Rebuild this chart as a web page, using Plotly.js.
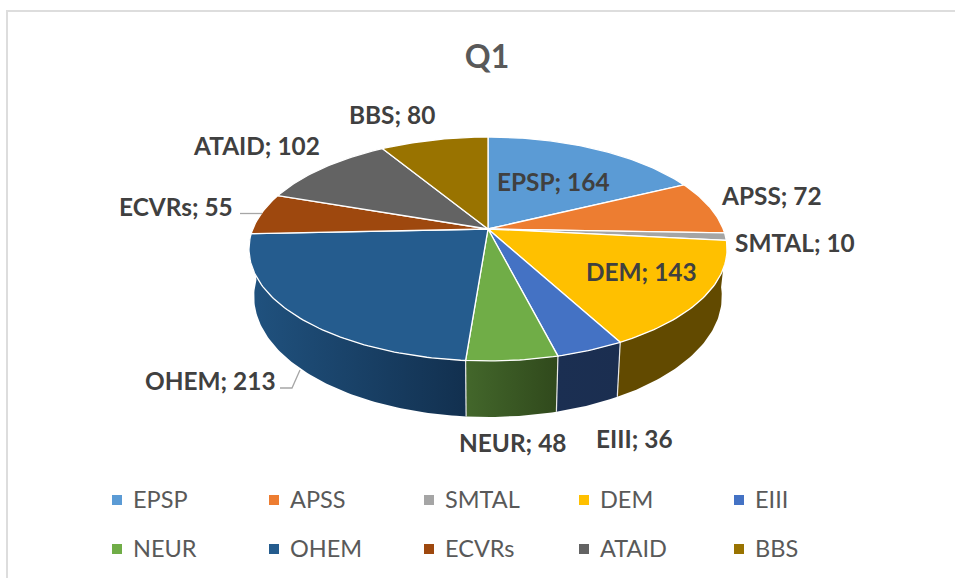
<!DOCTYPE html>
<html>
<head>
<meta charset="utf-8">
<script src="https://cdn.plot.ly/plotly-3.0.1.min.js"></script>
<style>html,body{margin:0;padding:0;background:#fff;overflow:hidden}</style>
</head>
<body>
<div id="chart" style="width:955px;height:578px"></div>
<script>
// Data
var categories = ["EPSP","APSS","SMTAL","DEM","EIII","NEUR","OHEM","ECVRs","ATAID","BBS"];
var values = [164,72,10,143,36,48,213,55,102,80];

// Styles
var topColors = ["#5B9BD5","#ED7D31","#A5A5A5","#FFC000","#4472C4","#70AD47","#255C8E","#9E480E","#636363","#997300"];
var wallLeft  = ["#375d80","#8e4b1d","#636363","#624a00","#1b2f52","#43672b","#20527f","#5f2b08","#3b3b3b","#5c4500"];
var wallRight = ["#375d80","#8e4b1d","#636363","#624a00","#1b2e50","#30491c","#12304f","#5f2b08","#3b3b3b","#5c4500"];

// Projection of the pie disc (pixel space axes)
var CX = 488, CY = 229, A = 235.2, B = 108.4, K = 0.1786, DEPTH = 46, BASE_SCALE = 0.978;
function project(deg, lower) {
  var t = deg * Math.PI / 180, u = Math.sin(t), v = Math.cos(t), w = 1 + K * v;
  return lower
    ? [CX + BASE_SCALE * A * u / w, CY - B * v / w + DEPTH / w]
    : [CX + A * u / w, CY - B * v / w];
}
function arc(a0, a1, lower) {
  var n = Math.max(2, Math.ceil(Math.abs(a1 - a0))), pts = [];
  for (var i = 0; i <= n; i++) pts.push(project(a0 + (a1 - a0) * i / n, lower));
  return pts;
}

var total = values.reduce(function (s, v) { return s + v; }, 0);
var edges = [0];
values.forEach(function (v, i) { edges.push(edges[i] + v / total * 360); });

var traces = [];

// Side walls (only the slices that face the viewer)
categories.forEach(function (c, i) {
  var a0 = edges[i], a1 = edges[i + 1];
  var front = Math.min(Math.cos(a0 * Math.PI / 180), Math.cos(a1 * Math.PI / 180)) < -0.15;
  if (!front) return;
  var pts = arc(a0, a1, false).concat(arc(a1, a0, true));
  pts.push(pts[0]);
  var xs = pts.map(function (p) { return p[0]; });
  traces.push({
    type: "scatter", mode: "lines", x: xs, y: pts.map(function (p) { return p[1]; }),
    fill: "toself", line: { width: 0 }, showlegend: false, hoverinfo: "skip",
    fillgradient: { type: "horizontal", colorscale: [[0, wallLeft[i]], [1, wallRight[i]]] }
  });
});

// Wall separators
categories.forEach(function (c, i) {
  var a = edges[i];
  if (Math.cos(a * Math.PI / 180) < -0.15) {
    var p = project(a, false), q = project(a, true);
    traces.push({ type: "scatter", mode: "lines", x: [p[0], q[0]], y: [p[1], q[1]],
      line: { color: "#e8e8e8", width: 1.2 }, showlegend: false, hoverinfo: "skip" });
  }
});

// Top faces
categories.forEach(function (c, i) {
  var pts = [[CX, CY]].concat(arc(edges[i], edges[i + 1], false));
  pts.push([CX, CY]);
  traces.push({
    type: "scatter", mode: "lines", name: c,
    x: pts.map(function (p) { return p[0]; }), y: pts.map(function (p) { return p[1]; }),
    fill: "toself", fillcolor: topColors[i], line: { color: "#ffffff", width: 1.3 },
    showlegend: false, hoverinfo: "text", text: c + "; " + values[i]
  });
});

// Legend keys
var legendX = [117, 274, 429, 584, 739], legendY = [500, 549], legendGap = 14, legendTextDy = -0.7;
categories.forEach(function (c, i) {
  traces.push({
    type: "scatter", mode: "markers", name: c,
    x: [legendX[i % 5]], y: [legendY[Math.floor(i / 5)]],
    marker: { symbol: "square", size: 10, color: topColors[i] },
    showlegend: false, hoverinfo: "skip"
  });
});

// Data label centres
var labelX = [553, 771, 795, 641, 634, 512, 210, 175.5, 256, 392];
var labelY = [181, 195, 242, 271, 438, 442, 380, 206, 145, 114];
var annotations = categories.map(function (c, i) {
  return { x: labelX[i], y: labelY[i], xref: "x", yref: "y", showarrow: false,
    text: "<b>" + c + "; " + values[i] + "</b>", xanchor: "center", yanchor: "middle",
    font: { family: "Lato", size: 24.4, color: "#404040" } };
}).concat(categories.map(function (c, i) {
  return { x: legendX[i % 5] + legendGap, y: legendY[Math.floor(i / 5)] + legendTextDy, xref: "x", yref: "y", showarrow: false,
    text: c, xanchor: "left", yanchor: "middle",
    font: { family: "Lato", size: 23.5, color: "#595959" } };
}));

var layout = {
  width: 955, height: 578,
  margin: { l: 0, r: 0, t: 0, b: 0 },
  paper_bgcolor: "#ffffff", plot_bgcolor: "#ffffff",
  showlegend: false,
  title: { text: "<b>Q1</b>", x: 487 / 955, xanchor: "center", y: 1 - 57 / 578, yanchor: "middle",
    font: { family: "Lato", size: 32, color: "#595959" } },
  xaxis: { range: [0, 955], visible: false, fixedrange: true },
  yaxis: { range: [578, 0], visible: false, fixedrange: true },
  annotations: annotations,
  shapes: [
    { type: "path", xref: "x", yref: "y", path: "M7,590 L7,11 L965,11", line: { color: "#dddddd", width: 2 } },
    { type: "path", xref: "x", yref: "y", path: "M240,213.5 L262,213.5", line: { color: "#a6a6a6", width: 1.3 } },
    { type: "path", xref: "x", yref: "y", path: "M280,388 L292,388 L300,370", line: { color: "#a6a6a6", width: 1.3 } }
  ]
};

Plotly.newPlot("chart", traces, layout, { displayModeBar: false, staticPlot: false });
</script>
</body>
</html>
